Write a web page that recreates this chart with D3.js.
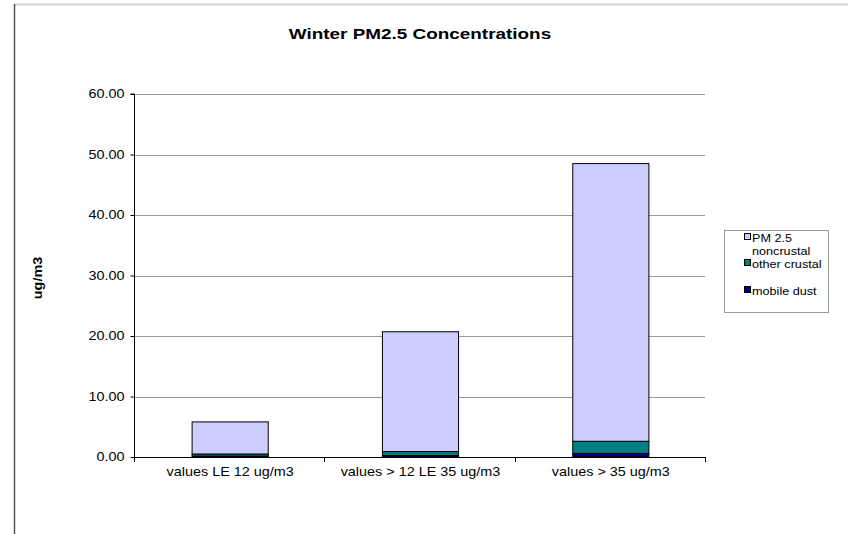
<!DOCTYPE html>
<html><head><meta charset="utf-8">
<script src="https://cdn.jsdelivr.net/npm/d3@7"></script>
<style>body{margin:0;background:#fff}svg{display:block;font-family:"Liberation Sans",Arial,sans-serif}</style>
</head><body><svg id="c" width="848" height="534"></svg>
<script>
const categories = ["values LE 12 ug/m3", "values > 12 LE 35 ug/m3", "values > 35 ug/m3"];
const mobileDust = [0.15, 0.25, 0.6];
const otherCrustal = [0.35, 0.65, 2.0];
const noncrustal = [5.3, 19.8, 45.9];
const yTicks = [0, 10, 20, 30, 40, 50, 60];
const seriesNames = ["mobile dust", "other crustal", "PM 2.5 noncrustal"];
const colors = ["#000080", "#008080", "#CCCCFF"];

const svg = d3.select("#c");
const L = 134, R = 705, T = 94, B = 457;
const SX = 1.2; // horizontal text stretch seen in the reference

// frame
svg.append("line").attr("x1",14).attr("x2",848).attr("y1",4.5).attr("y2",4.5).attr("stroke","#d0d0d0").attr("stroke-width",2);
svg.append("line").attr("x1",14.5).attr("x2",14.5).attr("y1",4).attr("y2",534).attr("stroke","#555").attr("stroke-width",1.5);

const x = d3.scaleBand().domain(categories).range([L, R]).paddingInner(0.6).paddingOuter(0.3);
const y = d3.scaleLinear().domain([0, 60]).range([B, T]);

// gridlines
svg.append("g").selectAll("line").data(yTicks.filter(d=>d>0)).join("line")
  .attr("x1", L).attr("x2", R).attr("y1", d=>Math.round(y(d))+0.5).attr("y2", d=>Math.round(y(d))+0.5)
  .attr("stroke", "#999").attr("stroke-width", 1);

const data = categories.map((c,i)=>({cat:c, "mobile dust":mobileDust[i], "other crustal":otherCrustal[i], "PM 2.5 noncrustal":noncrustal[i]}));
const stack = d3.stack().keys(seriesNames)(data);

svg.append("g").selectAll("g").data(stack).join("g").attr("fill",(d,i)=>colors[i])
  .selectAll("rect").data(d=>d).join("rect")
  .attr("x", d=>x(d.data.cat)+1).attr("width", x.bandwidth())
  .attr("y", d=>y(d[1])).attr("height", d=>y(d[0])-y(d[1]))
  .attr("stroke","#000").attr("stroke-width",1);

// y axis
const yAxis = d3.axisLeft(y).tickValues(yTicks).tickFormat(d3.format(".2f")).tickSize(4).tickPadding(0);
const gy = svg.append("g").attr("transform",`translate(${L+0.5},0)`).call(yAxis);
gy.select(".domain").attr("stroke","#000").attr("d",`M-4,${T}H0V${B}`);
gy.selectAll(".tick line").attr("stroke","#000");
gy.selectAll("text").attr("font-size",12).attr("fill","#000").attr("font-family","Liberation Sans, Arial, sans-serif")
  .attr("x",0).attr("transform",`translate(-10,0) scale(${SX},1)`);

// x axis
svg.append("line").attr("x1",L).attr("x2",R).attr("y1",B+0.5).attr("y2",B+0.5).attr("stroke","#000");
const step = (R-L)/categories.length;
svg.append("g").selectAll("line").data(d3.range(categories.length+1)).join("line")
  .attr("x1",d=>Math.round(L+d*step)+0.5).attr("x2",d=>Math.round(L+d*step)+0.5)
  .attr("y1",B).attr("y2",B+5).attr("stroke","#000");
svg.append("g").selectAll("text").data(categories).join("text")
  .attr("transform",d=>`translate(${x(d)+1+x.bandwidth()/2},476) scale(${SX},1)`).attr("text-anchor","middle")
  .attr("font-size",12).text(d=>d);

// title
svg.append("text").attr("transform","translate(420,39) scale(1.35,1)").attr("text-anchor","middle")
  .attr("font-size",14).attr("font-weight","bold").text("Winter PM2.5 Concentrations");
// y label
svg.append("text").attr("transform","translate(42,278) rotate(-90) scale(1.2,1)").attr("text-anchor","middle")
  .attr("font-size",12).attr("font-weight","bold").text("ug/m3");

// legend
const lg = svg.append("g");
lg.append("rect").attr("x",724.5).attr("y",230.5).attr("width",104).attr("height",82).attr("fill","#fff").attr("stroke","#999");
const legItems = [
  {lines:["PM 2.5","noncrustal"], color:colors[2], y:238},
  {lines:["other crustal"], color:colors[1], y:264},
  {lines:["mobile dust"], color:colors[0], y:291}
];
legItems.forEach(it=>{
  lg.append("rect").attr("x",744.5).attr("y",it.y-4.5).attr("width",6).attr("height",6).attr("fill",it.color).attr("stroke","#000");
  const t = lg.append("text").attr("transform",`translate(752,${it.y+4}) scale(1.1,1)`).attr("font-size",11.5);
  it.lines.forEach((ln,k)=>t.append("tspan").attr("x",0).attr("dy",k===0?0:13).text(ln));
});
</script></body></html>
